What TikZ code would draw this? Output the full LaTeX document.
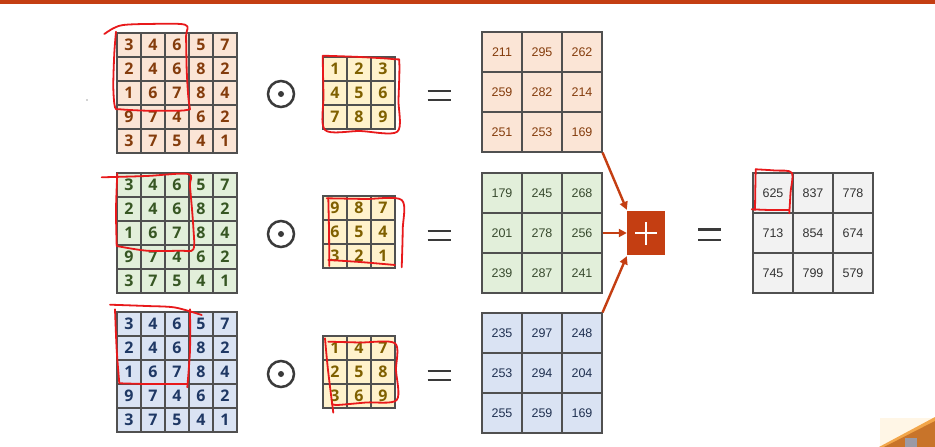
\documentclass[tikz,border=0pt]{standalone}
\usepackage{fontspec}
\usetikzlibrary{arrows.meta}
\newfontfamily\digfont{Open Sans}
\newfontfamily\numfont{Liberation Sans}
\definecolor{topbar}{HTML}{C43E12}
\definecolor{gridgray}{HTML}{505050}
\definecolor{peach}{HTML}{FBE5D6}
\definecolor{mint}{HTML}{E2EFDA}
\definecolor{sky}{HTML}{DAE3F3}
\definecolor{cream}{HTML}{FFF2CC}
\definecolor{lightgray}{HTML}{F2F2F2}
\definecolor{browntxt}{HTML}{843C0C}
\definecolor{greentxt}{HTML}{375623}
\definecolor{bluetxt}{HTML}{1F3864}
\definecolor{olivetxt}{HTML}{7F6000}
\definecolor{greenres}{HTML}{384A2E}
\definecolor{blueres}{HTML}{1F3050}
\definecolor{darktxt}{HTML}{333333}
\definecolor{penred}{HTML}{E8191B}
\definecolor{arrowred}{HTML}{C43E12}
\definecolor{symgray}{HTML}{3A3A3A}
\definecolor{fragcream}{HTML}{FFF6E6}
\definecolor{fragorange}{HTML}{F2A64A}
\definecolor{fragbrown}{HTML}{C8742A}
\definecolor{fraggray}{HTML}{9A9AA6}
\tikzset{
  smallcell/.style={draw=gridgray, line width=1.1pt, minimum size=24pt, inner sep=0pt, font=\digfont\bfseries\fontsize{16}{16}\selectfont},
  bigcell/.style={draw=gridgray, line width=1.1pt, minimum size=40pt, inner sep=0pt, font=\numfont\fontsize{12.5}{12.5}\selectfont},
  redpen/.style={draw=penred, line width=1.8pt, line cap=round, line join=round},
  sumarrow/.style={draw=arrowred, line width=2.4pt, -{Triangle[length=8pt,width=8pt]}},
  eqline/.style={draw=symgray, line width=2.6pt},
  odotring/.style={draw=symgray, line width=2.5pt},
}
\newcommand\gridmat[7]{%
  \foreach \row [count=\i] in {#7} {
    \foreach \v [count=\j] in \row {
      \node[#5, #6] (#1-\i-\j) at ({#2+#4/2+#4*(\j-1)},{#3+#4/2+#4*(\i-1)}) {\v};
    }
  }
}
\newcommand\odotsym[1]{%
  \draw[odotring] (#1) circle[radius=13];
  \fill[symgray] (#1) circle[radius=3];
}
\begin{document}
\begin{tikzpicture}[x=1pt,y=-1pt]
\useasboundingbox (0,0) rectangle (935,447);
\fill[white] (0,0) rectangle (935,447);
\fill[topbar] (0,0) rectangle (935,4);
% input matrices
\gridmat{ia}{117}{33}{24}{smallcell}{fill=peach,text=browntxt}{{3,4,6,5,7},{2,4,6,8,2},{1,6,7,8,4},{9,7,4,6,2},{3,7,5,4,1}}
\gridmat{ib}{117}{173}{24}{smallcell}{fill=mint,text=greentxt}{{3,4,6,5,7},{2,4,6,8,2},{1,6,7,8,4},{9,7,4,6,2},{3,7,5,4,1}}
\gridmat{ic}{117}{312}{24}{smallcell}{fill=sky,text=bluetxt}{{3,4,6,5,7},{2,4,6,8,2},{1,6,7,8,4},{9,7,4,6,2},{3,7,5,4,1}}
% kernels
\gridmat{ka}{323}{57}{24}{smallcell}{fill=cream,text=olivetxt}{{1,2,3},{4,5,6},{7,8,9}}
\gridmat{kb}{323}{196}{24}{smallcell}{fill=cream,text=olivetxt}{{9,8,7},{6,5,4},{3,2,1}}
\gridmat{kc}{323}{336}{24}{smallcell}{fill=cream,text=olivetxt}{{1,4,7},{2,5,8},{3,6,9}}
% results
\gridmat{ra}{482}{32}{40}{bigcell}{fill=peach,text=browntxt}{{211,295,262},{259,282,214},{251,253,169}}
\gridmat{rb}{482}{173}{40}{bigcell}{fill=mint,text=greenres}{{179,245,268},{201,278,256},{239,287,241}}
\gridmat{rc}{482}{313}{40}{bigcell}{fill=sky,text=blueres}{{235,297,248},{253,294,204},{255,259,169}}
% final
\gridmat{fin}{753}{173}{40}{bigcell}{fill=lightgray,text=darktxt}{{625,837,778},{713,854,674},{745,799,579}}
% odot symbols
\coordinate (oa) at (281,94);
\coordinate (ob) at (281,234);
\coordinate (oc) at (281,374);
\odotsym{oa}
\odotsym{ob}
\odotsym{oc}
% equals signs
\foreach \yy/\nn in {95.5/ea,235.5/eb,375.5/ec} {
  \coordinate (\nn) at (439,\yy);
  \draw[eqline] ([xshift=-11.5pt,yshift=4.5pt]\nn) -- ([xshift=11.5pt,yshift=4.5pt]\nn);
  \draw[eqline] ([xshift=-11.5pt,yshift=-4.5pt]\nn) -- ([xshift=11.5pt,yshift=-4.5pt]\nn);
}
\coordinate (ed) at (709.5,234.5);
\draw[eqline] ([xshift=-11.5pt,yshift=5.3pt]ed) -- ([xshift=11.5pt,yshift=5.3pt]ed);
\draw[eqline] ([xshift=-11.5pt,yshift=-5.3pt]ed) -- ([xshift=11.5pt,yshift=-5.3pt]ed);
% plus box
\node[fill=topbar, minimum width=38pt, minimum height=44pt, inner sep=0pt] (plus) at (646,233) {};
\draw[white, line width=2.6pt] ([xshift=-11pt]plus.center) -- ([xshift=11pt]plus.center);
\draw[white, line width=2.6pt] ([yshift=-11.5pt]plus.center) -- ([yshift=11.5pt]plus.center);
% arrows
\draw[sumarrow] (ra-3-3.south east) -- ([yshift=1pt]plus.north west);
\draw[sumarrow] (rb-2-3.east) -- (plus.west);
\draw[sumarrow] (rc-1-3.north east) -- ([yshift=-1pt]plus.south west);
% red annotations
\draw[redpen] plot[smooth] coordinates {(104.3,34) (113.3,28.3) (123.3,25) (146.7,24) (185,24.7) (186,36.7) (186.7,70) (188.3,96.7) (190,109.3)};
\draw[redpen] plot[smooth] coordinates {(190,109.3) (180,110.7) (146.7,110.7) (120,109.3) (115,107.3) (113.3,86.7) (114.3,53.3) (116,31.7)};
\draw[redpen] plot[smooth] coordinates {(322.7,55.7) (360,57) (395,59.3) (399.3,62.7) (398.5,100) (397.3,131.7) (360,131) (325,130) (323.5,95) (322.7,55.7)};
\draw[redpen] plot[smooth] coordinates {(101.7,177.3) (146.7,176) (188.3,174) (190,186.7) (193.3,226.7) (193.3,249.3) (180,250.7) (146.7,250.7) (116.7,246)};
\draw[redpen] plot[smooth] coordinates {(116.7,246) (116,210) (117.3,173.3)};
\draw[redpen] plot[smooth] coordinates {(326.7,198.3) (365,199) (401.7,200) (402.7,230) (401.7,267.3)};
\draw[redpen] plot[smooth] coordinates {(328.3,260) (360,262) (395,265)};
\draw[redpen] plot[smooth] coordinates {(328.3,198.3) (329,230) (329.3,266)};
\draw[redpen] plot[smooth] coordinates {(110,304.7) (146.7,306) (175,307.5) (201.7,315)};
\draw[redpen] plot[smooth] coordinates {(190,309.3) (190,350) (187.3,387.3)};
\draw[redpen] plot[smooth] coordinates {(186.7,384) (146.7,384) (120,383.3)};
\draw[redpen] plot[smooth] coordinates {(115,309.3) (116.7,350) (119.3,383.3)};
\draw[redpen] plot[smooth] coordinates {(325,338.3) (328,370) (333.3,412.7)};
\draw[redpen] plot[smooth] coordinates {(328.3,341.7) (360,342.5) (395,343.3) (396,370) (396.7,400) (366,402.5) (336.7,405) (331.7,403.3)};
\draw[redpen] plot[smooth] coordinates {(755.7,169.3) (775,170.5) (791.7,172.7) (790.5,193) (789.3,213.3)};
\draw[redpen] plot[smooth] coordinates {(789.3,210) (770,210) (751.7,209.3)};
\draw[redpen] plot[smooth] coordinates {(755.7,169.3) (755.3,190) (755,210)};
% stray dot
\fill[gray!70] (87,100) circle[radius=0.9];
% corner photo fragment
\fill[fragcream] (880,418) rectangle (935,447);
\fill[fragorange] (879,447) -- (935,417) -- (935,447) -- cycle;
\fill[fragbrown] (884,447) -- (935,421) -- (935,447) -- cycle;
\fill[fraggray] (905,438) rectangle (917,447);
\end{tikzpicture}
\end{document}
